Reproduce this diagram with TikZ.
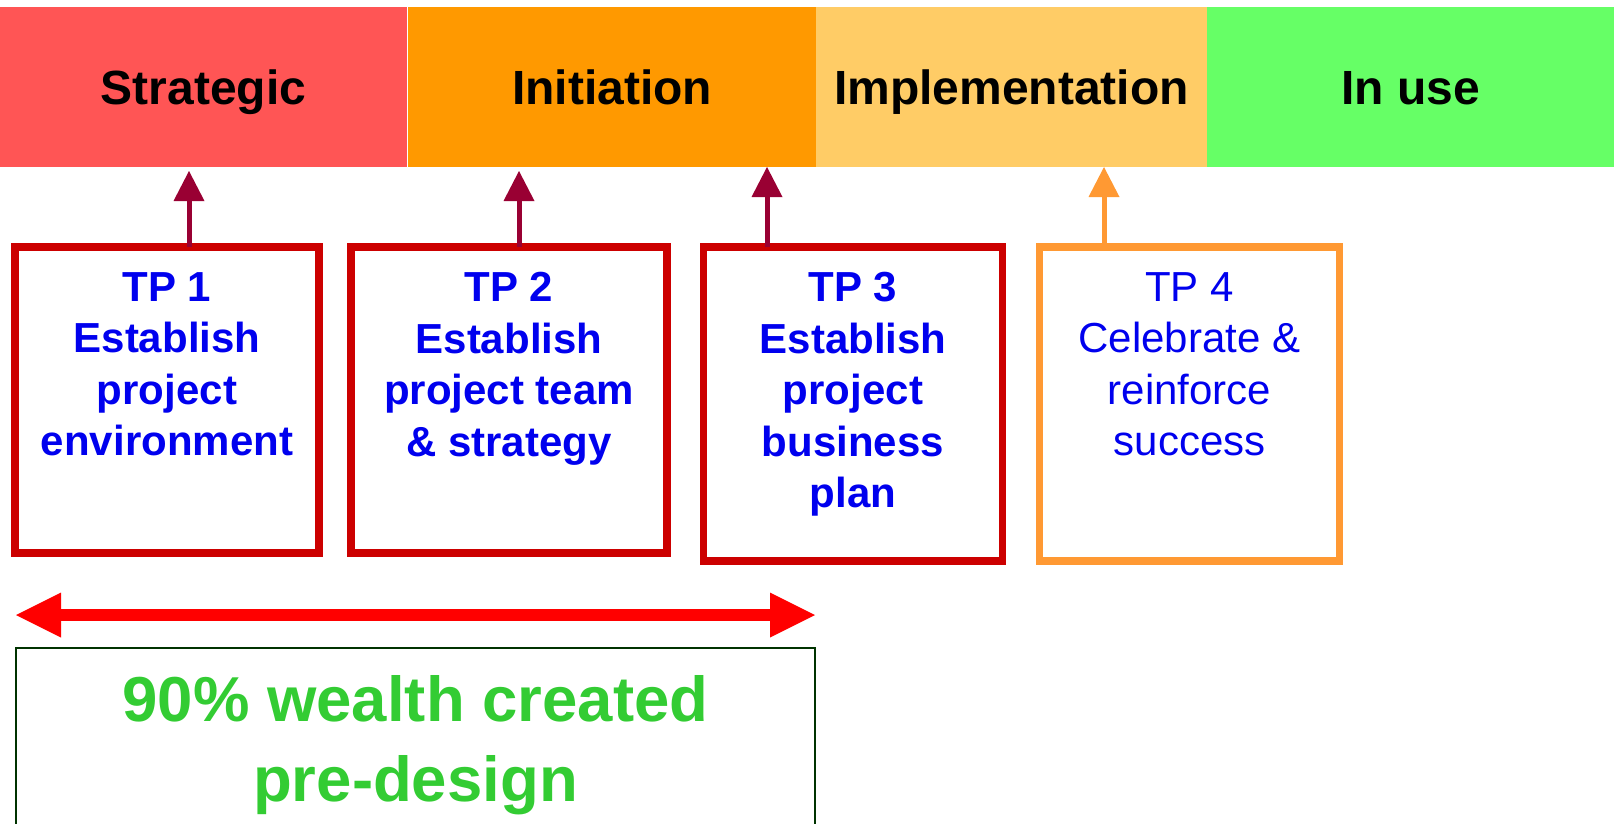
\documentclass[tikz,border=0pt]{standalone}
\usepackage{fontspec}
\setmainfont{Liberation Sans}
\usetikzlibrary{arrows.meta,positioning}

\definecolor{strategic}{HTML}{FF5555}
\definecolor{initiation}{HTML}{FF9900}
\definecolor{implement}{HTML}{FFCC66}
\definecolor{inuse}{HTML}{66FF66}
\definecolor{tpred}{HTML}{CC0000}
\definecolor{tporange}{HTML}{FF9933}
\definecolor{tpblue}{HTML}{0000EE}
\definecolor{arrowred}{HTML}{990033}
\definecolor{spanred}{HTML}{FF0000}
\definecolor{wealthgreen}{HTML}{33CC33}
\definecolor{darkgreen}{HTML}{003300}

\tikzset{
  phase/.style = {fill=#1, anchor=north west, minimum height=160pt,
    inner sep=0pt, outer sep=0pt, text height=34pt, text depth=0pt,
    font=\fontsize{48}{58}\selectfont\bfseries},
  tpbox/.style = {draw=#1, line width=7.5pt, anchor=north west,
    inner sep=0pt, outer sep=0pt},
  tptext/.style = {align=center, inner sep=0pt, text=tpblue,
    font=\fontsize{42}{51.5}\selectfont\bfseries},
  uparrow/.style = {draw=#1, line width=5pt,
    -{Triangle[length=30pt, width=31pt, line width=0pt]}},
  span/.style = {draw=spanred, line width=12pt,
    {Triangle[length=45pt, width=45pt, line width=0pt]}-{Triangle[length=45pt, width=45pt, line width=0pt]}}
}

\begin{document}
\begin{tikzpicture}[x=1pt, y=-1pt]
  \useasboundingbox (0,0) rectangle (1614,823);

  % phase bar
  \node[phase=strategic, minimum width=407pt] (strat) at (0,7) {Strategic};
  \node[phase=initiation, minimum width=408pt] (init) at (408,7) {Initiation};
  \node[phase=implement, minimum width=391pt] (impl) at (816,7) {Implementation};
  \node[phase=inuse, minimum width=407pt] (inuse) at (1207,7) {In use};

  % touch points
  \node[tpbox=tpred, minimum width=304pt, minimum height=306pt] (tp1) at (15,247) {};
  \node[tpbox=tpred, minimum width=316pt, minimum height=306pt] (tp2) at (351,247) {};
  \node[tpbox=tpred, minimum width=299pt, minimum height=314pt] (tp3) at (703.5,247) {};
  \node[tpbox=tporange, minimum width=300pt, minimum height=314pt] (tp4) at (1039.5,247) {};

  \node[tptext, below=25pt of tp1.north] (tp1txt) {TP 1\\Establish\\project\\environment};
  \node[tptext, below=25pt of tp2.north] (tp2txt) {TP 2\\Establish\\project team\\\& strategy};
  \node[tptext, below=25pt of tp3.north] (tp3txt) {TP 3\\Establish\\project\\business\\plan};
  \node[tptext, font=\fontsize{42}{51.5}\selectfont, below=25pt of tp4.north] (tp4txt) {TP 4\\Celebrate \&\\reinforce\\success};

  % arrows up to the phases
  \coordinate (a1) at (189,171);
  \coordinate (a2) at (519,171);
  \coordinate (a3) at (767,167);
  \coordinate (a4) at (1104,167);
  \draw[uparrow=arrowred] (tp1.north -| a1) -- (a1);
  \draw[uparrow=arrowred] (tp2.north -| a2) -- (a2);
  \draw[uparrow=arrowred] (tp3.north -| a3) -- (a3);
  \draw[uparrow=tporange] (tp4.north -| a4) -- (a4);

  % span of the first three
  \coordinate (spanL) at (16,615);
  \coordinate (spanR) at (815,615);
  \draw[span] (spanL) -- (spanR);

  \node[draw=darkgreen, line width=2pt, anchor=north west, minimum width=799pt,
    minimum height=220pt, inner sep=0pt, outer sep=0pt] (wealth) at (16,648) {};
  \node[below=27pt of wealth.north, inner sep=0pt, align=center, text=wealthgreen,
    font=\fontsize{63.5}{80}\selectfont\bfseries] (wealthtxt) {90\% wealth created\\pre-design};
\end{tikzpicture}
\end{document}
